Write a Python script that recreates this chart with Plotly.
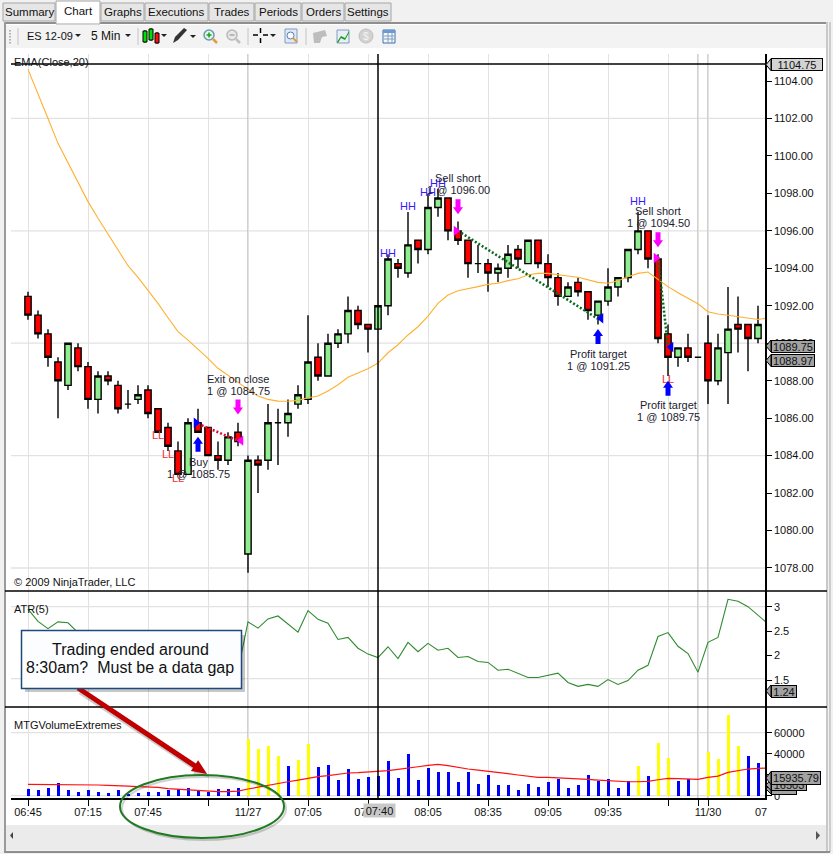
import plotly.graph_objects as go

W, H = 833, 854

# ---------- data ----------
bars = list(range(74))
opens = [1092.5,1091.5,1090.5,1089,1087.75,1089.75,1088.75,1087,1088.25,1087.75,1086.75,1087,1087.5,1086.5,1085.5,1084.25,1083,1085.75,1085.5,1084,1083.75,1085.25,1078.75,1083.75,1083.75,1085.75,1085.75,1086.75,1087,1089.25,1088.25,1090,1090.5,1091.75,1091,1090.75,1092,1094.25,1093.75,1095.5,1095,1097.25,1097.75,1096,1095.5,1094.25,1094.25,1093.75,1094,1095,1094.25,1095.5,1094.25,1093.5,1092.5,1093.25,1092.75,1091.5,1092.25,1093,1093.5,1095,1096,1094.5,1090.5,1089.25,1089.75,1089.25,1090,1088,1089.5,1091,1091,1090.25]
highs = [1092.75,1091.75,1090.75,1089.25,1090,1090,1089,1088.5,1088.5,1088,1087.5,1087.75,1087.75,1086.5,1085.75,1084.75,1086,1086.5,1085.5,1084.75,1085.25,1085.75,1084,1084,1086.75,1086.5,1087,1087.75,1091.5,1090,1090.5,1090.75,1092.5,1092,1091,1092,1094.75,1094.5,1097,1095.5,1098,1098.25,1097.75,1096.5,1095.5,1095.25,1094.5,1094.25,1095.25,1095.25,1095.5,1095.5,1094.75,1093.75,1093.25,1093.5,1092.75,1092.25,1094,1093.5,1095,1097,1096,1094.75,1091,1089.75,1090.5,1089.25,1091.5,1090.5,1093,1092.5,1091,1092]
lows = [1091.25,1090.25,1088.75,1086,1087.5,1088.5,1086.5,1086.25,1087.75,1086.25,1086.5,1086.75,1086,1085.25,1084.25,1083,1083,1085.25,1084,1083.25,1083.5,1084.5,1077.75,1082,1083.25,1083.5,1085,1086.5,1086.75,1088,1088.25,1089.75,1090,1090.75,1089.5,1090.75,1091.5,1093.5,1093.5,1094.25,1094.75,1096.75,1095.5,1095.25,1093.5,1093.75,1092.75,1093.25,1093.5,1094,1094.25,1094,1093,1092,1092.5,1092.5,1091.25,1091,1092,1092.5,1093.25,1094.75,1094,1090,1088.25,1088.75,1089,1089.25,1086.75,1087.75,1086.75,1089.5,1088.5,1090]
closes = [1091.5,1090.5,1089.25,1088,1090,1088.75,1087,1088.25,1088,1086.5,1086.75,1087.25,1086.25,1085.25,1084.5,1083,1085.75,1085.25,1084,1083.75,1085,1084.75,1083.75,1083.5,1085.75,1085.75,1086.25,1087.25,1089,1088.25,1090,1090.5,1091.75,1091,1090.75,1092,1094.5,1094,1095.25,1095,1097.25,1097.75,1096,1095.5,1094.25,1094.25,1093.75,1094,1094.75,1094.5,1095.5,1094.25,1093.5,1092.5,1093,1092.75,1091.75,1092.25,1093,1093.5,1095,1096,1094.5,1090.25,1089.25,1089.75,1089.25,1089.25,1088,1089.75,1090.75,1090.75,1090.25,1091]

ema_bars = list(range(75))
ema = [1104.62,1103.34,1102.0,1100.67,1099.64,1098.57,1097.56,1096.67,1095.81,1094.98,1094.14,1093.52,1092.84,1092.13,1091.36,1090.62,1090.17,1089.69,1089.19,1088.66,1088.26,1087.91,1087.54,1087.18,1087.0,1086.91,1086.9,1086.95,1087.09,1087.18,1087.45,1087.78,1088.18,1088.43,1088.64,1088.94,1089.49,1089.92,1090.44,1090.88,1091.45,1092.13,1092.57,1092.8,1092.93,1093.02,1093.14,1093.2,1093.34,1093.44,1093.66,1093.73,1093.73,1093.64,1093.59,1093.52,1093.37,1093.25,1093.2,1093.34,1093.55,1093.73,1093.8,1093.41,1093.02,1092.7,1092.4,1092.11,1091.68,1091.56,1091.49,1091.42,1091.35,1091.27,1091.35]

atr = [2.95,2.70,2.55,2.69,2.67,2.47,2.38,2.30,2.22,2.15,2.10,2.02,1.97,1.92,1.87,1.85,1.83,1.80,1.78,1.80,1.85,1.70,2.69,2.56,2.75,2.81,2.65,2.48,2.92,2.74,2.66,2.33,2.37,2.15,2.03,1.96,2.18,1.94,2.27,2.08,2.25,2.11,2.15,1.96,1.98,1.88,1.86,1.70,1.72,1.64,1.55,1.55,1.59,1.64,1.45,1.37,1.41,1.37,1.51,1.41,1.49,1.70,1.80,2.39,2.47,2.19,2.04,1.66,2.27,2.37,3.15,3.11,3.00,2.83,2.65]

volume = [6350,5400,7300,12000,5400,3500,5400,3500,2500,5400,1600,2500,3500,3500,5400,6350,7300,5400,3500,6350,6350,7300,54000,44500,47300,37800,28300,34000,49200,27300,29200,14900,25400,15900,17800,18700,33000,16800,39700,14900,26400,22500,22500,13000,22500,11100,19700,10200,10200,5400,11100,8250,13000,15900,7300,10200,19700,14000,15900,7300,14000,28300,18700,50200,35900,14000,15900,0,41600,34900,76800,47300,37800,31100]
vol_extreme = [22,23,24,25,27,28,61,63,64,68,69,70,71]
vol_avg = [10800,10800,10800,10800,10800,10800,10800,10200,9800,9800,9200,8600,8250,7900,6700,6000,5400,4800,3800,3800,3800,4400,6350,8250,10200,12100,13300,14900,16800,18100,19050,20600,21600,21900,22500,22900,23800,25100,26700,27600,28900,29800,28600,26700,25400,24400,23500,21900,21000,19700,18700,17500,17500,17100,16800,16500,15600,14900,14300,13300,13300,13300,13650,15200,16500,16200,15600,15600,17500,18700,22200,24100,25400,26000,26400]

tick_bars = [0,6,12,18,22,28,34,40,46,52,58,64,67,68]
tick_text = ["06:45","07:15","07:45","","11/27","07:05","07:35","08:05","08:35","09:05","09:35","","","11/30"]
session_bars = [22,67,68]
crosshair_bar = 35
crosshair_price = 1104.9

price_ticks = [1078,1080,1082,1084,1086,1088,1090,1092,1094,1096,1098,1100,1102,1104]
price_grid = [1078,1084,1090,1096,1102]
atr_ticks = [1.5,2,2.5,3]
atr_grid = [1.53,3]
vol_ticks = [0,20000,40000,60000]
vol_text = ["0","","40000","60000"]
vol_grid = [0,60000]

hh_bars = [36,38,40,41,61]
hh_prices = [1094.76,1097.27,1098,1098.5,1097.52]
ll_bars = [13,14,15,64]
ll_prices = [1085.05,1084.03,1082.75,1088.04]

trade_lines = [
    ([17,21],[1085.7,1084.8],"#e0103c"),
    ([43,57],[1096,1091.3],"#0b6b1d"),
    ([63,64],[1094.5,1089.85],"#0b6b1d"),
]
entry_right_bars = [16.8,42.8,62.8]
entry_right_prices = [1085.75,1096,1094.55]
entry_right_colors = ["#0000ff","#ff00ff","#ff00ff"]
exit_left_bars = [21.3,57.3,64.3]
exit_left_prices = [1084.8,1091.33,1089.8]
exit_left_colors = ["#ff00ff","#0000ff","#0000ff"]

up_arrow_bars = [17,57,64]
up_arrow_tips = [1085,1090.76,1088]
down_arrow_bars = [21,43,63]
down_arrow_tips = [1086.2,1096.88,1095.12]

trade_labels = [
    (17,1083.34,"Buy","1 @ 1085.75"),
    (21,1087.77,"Exit on close","1 @ 1084.75"),
    (43,1098.5,"Sell short","1 @ 1096.00"),
    (63,1096.74,"Sell short","1 @ 1094.50"),
    (57,1089.1,"Profit target","1 @ 1091.25"),
    (64,1086.38,"Profit target","1 @ 1089.75"),
]
tabs = [("Summary",3,55),("Chart",56,100),("Graphs",101,144),("Executions",145,208),("Trades",209,254),("Periods",255,301),("Orders",302,344),("Settings",345,391)]

# ---------- pixel helpers for the window chrome ----------
FONT = "Liberation Sans"
def X(p): return p / W
def Y(p): return 1 - p / H
shapes, notes = [], []
def rect(x0,y0,x1,y1,fill=None,line=None,lw=1,layer="below",op=None):
    s = dict(type="rect",xref="paper",yref="paper",x0=X(x0),x1=X(x1),y0=Y(y0),y1=Y(y1),layer=layer,
             line=dict(color=line or "rgba(0,0,0,0)",width=lw if line else 0))
    if fill: s["fillcolor"]=fill
    if op is not None: s["opacity"]=op
    shapes.append(s)
def seg(x0,y0,x1,y1,color="#000",lw=1,layer="below",dash=None):
    shapes.append(dict(type="line",xref="paper",yref="paper",x0=X(x0),x1=X(x1),y0=Y(y0),y1=Y(y1),layer=layer,
                       line=dict(color=color,width=lw,dash=dash or "solid")))
def poly(pts,fill,line=None,lw=1,layer="above",op=None):
    d = "M"+" L".join(f"{X(a):.5f},{Y(b):.5f}" for a,b in pts)+" Z"
    s = dict(type="path",xref="paper",yref="paper",path=d,fillcolor=fill,layer=layer,
             line=dict(color=line or "rgba(0,0,0,0)",width=lw if line else 0))
    if op is not None: s["opacity"]=op
    shapes.append(s)
def circ(x0,y0,x1,y1,fill=None,line="#000",lw=1,layer="above",op=None):
    s = dict(type="circle",xref="paper",yref="paper",x0=X(x0),x1=X(x1),y0=Y(y0),y1=Y(y1),layer=layer,line=dict(color=line,width=lw))
    if fill: s["fillcolor"]=fill
    if op is not None: s["opacity"]=op
    shapes.append(s)
def txt(x,y,t,size=11,color="#111",anchor="left",**kw):
    notes.append(dict(xref="paper",yref="paper",x=X(x),y=Y(y),text=t,showarrow=False,xanchor=anchor,yanchor="middle",
                      font=dict(family=FONT,size=size,color=color),borderpad=0,**kw))

# window background
rect(5,23,827,825,fill="#ffffff")
rect(4,22,828,24,fill="#8f8f8f")
rect(4,22,6,852,fill="#9a9a9a")
rect(826,22,828,852,fill="#c8c8c8")
seg(830,22,830,852,"#a8a8a8",1)
seg(4,852,830,852,"#8f8f8f",2)
rect(6,825,826,850,fill="#ebebeb")
poly([(13,832),(13,839),(10,835.5)],"#444",layer="below")
poly([(816,831),(816,840),(820,835.5)],"#555",layer="below")
# toolbar
rect(6,25,826,48,fill="#f3f3f3")
for gy in (30,33,36,39,42):
    rect(9,gy,11,gy+1.5,fill="#b0b0b0")
for sx in (18,138,248,306):
    seg(sx,28,sx,45,"#c4c4c4",1)
# tabs
for name,a,b in tabs:
    on = name=="Chart"
    rect(a,1 if on else 3,b,24 if on else 21,fill="#ffffff" if on else "#e6e6e6",line="#a5a5a5",lw=1)
    txt((a+b)/2,11 if on else 12,name,size=11.5,anchor="center",color="#111")
txt(26,36,"ES 12-09",size=11)
poly([(75,34),(81,34),(78,37)],"#222")
txt(90,36,"5 Min",size=12)
poly([(125,34),(131,34),(128,37)],"#222")
# candle icon
for cx,c,t,b in ((145,"#00e000",31,42),(151,"#00e000",29,40),(157,"#ff1010",33,43)):
    seg(cx,t-1,cx,b+1,"#000",1,layer="above")
    rect(cx-2,t,cx+2,b,fill=c,line="#000",lw=1,layer="above")
poly([(161,34),(167,34),(164,37)],"#222")
# pencil icon
poly([(173,43),(175,37),(184,28),(187,30),(178,40)],"#333")
poly([(190,35),(196,35),(193,38)],"#222")
# magnifiers
circ(204,30,214,40,fill="#e6f4e6",line="#6d97b8",lw=1.5)
seg(206.5,35,211.5,35,"#1aa01a",1.5,layer="above"); seg(209,32.5,209,37.5,"#1aa01a",1.5,layer="above")
seg(213,39,217,43,"#e89a3c",2.5,layer="above")
circ(227,30,237,40,fill="#e8e8e8",line="#b8b8b8",lw=1.5)
seg(229.5,35,234.5,35,"#a8a8a8",1.5,layer="above")
seg(236,39,240,43,"#c0c0c0",2.5,layer="above")
# crosshair icon
seg(253,35,258,35,"#000",1.5,layer="above"); seg(263,35,268,35,"#000",1.5,layer="above")
seg(260.5,28,260.5,33,"#000",1.5,layer="above"); seg(260.5,38,260.5,43,"#000",1.5,layer="above")
poly([(270,34),(276,34),(273,37)],"#222")
# page zoom icon
rect(285,29,297,43,fill="#dfe9f6",line="#7f9dc0",lw=1,layer="above")
circ(287,32,294,39,fill="#f7fbff",line="#5a7ea6",lw=1)
seg(293,38,297,42,"#e89a3c",2,layer="above")
# greyed icons
poly([(313,33),(325,30),(327,36),(322,37),(320,43),(314,43)],"#bdbdbd")
rect(337,30,349,43,fill="#e8eef6",line="#7f9dc0",lw=1,layer="above")
poly([(337,42),(341,36),(345,38),(349,31),(349,33),(345,40),(341,38),(338,43)],"#1a9a1a")
circ(359,29,373,43,fill="#d2d2d2",line="#c0c0c0",lw=1)
txt(366,36,"$",size=10,anchor="center",color="#f2f2f2")
rect(383,30,395,43,fill="#f4f8fc",line="#3f6ea8",lw=1,layer="above")
rect(383,30,395,33,fill="#6a9ad0",layer="above")
for gy in (36,39):
    seg(384,gy,394,gy,"#7f9dc0",1,layer="above")
seg(388,33,388,43,"#7f9dc0",1,layer="above"); seg(392,33,392,43,"#7f9dc0",1,layer="above")

# panel frame lines and crosshair
PX0, PX1 = 11, 765
TOP, P1, P2, BOT = 54, 591, 707, 798
seg(5,P1,827,P1,"#000",1.5,layer="above")
seg(5,P2,827,P2,"#000",1.5,layer="above")
seg(PX0,64,PX1,64,"#000",1.5,layer="above")

# ---------- figure ----------
fig = go.Figure()
x_axis_range = [(PX0-28)/10,(PX1-28)/10]

fig.add_trace(go.Scatter(x=ema_bars,y=ema,mode="lines",line=dict(color="#ffb030",width=1.1),yaxis="y",xaxis="x",hoverinfo="skip"))
fig.add_trace(go.Candlestick(x=bars,open=opens,high=highs,low=lows,close=closes,yaxis="y",xaxis="x",
    whiskerwidth=0,
    increasing=dict(fillcolor="#90ee90",line=dict(color="#000000",width=1.4)),
    decreasing=dict(fillcolor="#ff0000",line=dict(color="#000000",width=1.4)),hoverinfo="skip"))
for xs,ys,c in trade_lines:
    fig.add_trace(go.Scatter(x=xs,y=ys,mode="lines",line=dict(color=c,width=2.6,dash="2px 2px"),yaxis="y",xaxis="x",hoverinfo="skip"))
fig.add_trace(go.Scatter(x=entry_right_bars,y=entry_right_prices,mode="markers",marker=dict(symbol="triangle-right",size=9,color=entry_right_colors),yaxis="y",xaxis="x",hoverinfo="skip"))
fig.add_trace(go.Scatter(x=exit_left_bars,y=exit_left_prices,mode="markers",marker=dict(symbol="triangle-left",size=9,color=exit_left_colors),yaxis="y",xaxis="x",hoverinfo="skip"))
fig.add_trace(go.Scatter(x=hh_bars,y=hh_prices,mode="text",text=["HH"]*len(hh_bars),textfont=dict(family=FONT,size=11,color="#3a18ff"),yaxis="y",xaxis="x",hoverinfo="skip"))
fig.add_trace(go.Scatter(x=ll_bars,y=ll_prices,mode="text",text=["LL"]*len(ll_bars),textfont=dict(family=FONT,size=11,color="#f0302a"),yaxis="y",xaxis="x",hoverinfo="skip"))

fig.add_trace(go.Scatter(x=ema_bars,y=atr,mode="lines",line=dict(color="#2e8b2e",width=1.1),yaxis="y2",xaxis="x",hoverinfo="skip"))

vol_colors = ["#ffff00" if i in vol_extreme else "#0000ff" for i in bars]
fig.add_trace(go.Bar(x=bars,y=volume,marker=dict(color=vol_colors,line=dict(width=0)),width=0.3,yaxis="y3",xaxis="x",hoverinfo="skip"))
fig.add_trace(go.Scatter(x=ema_bars,y=vol_avg,mode="lines",line=dict(color="#ff1010",width=1.2),yaxis="y3",xaxis="x",hoverinfo="skip"))

# grid drawn from the per-panel level lists
for v in price_grid:
    shapes.append(dict(type="line",xref="paper",yref="y",x0=X(PX0),x1=X(PX1),y0=v,y1=v,layer="below",line=dict(color="#e2e2e2",width=1.3)))
for v in atr_grid:
    shapes.append(dict(type="line",xref="paper",yref="y2",x0=X(PX0),x1=X(PX1),y0=v,y1=v,layer="below",line=dict(color="#e2e2e2",width=1.3)))
for v in vol_grid:
    shapes.append(dict(type="line",xref="paper",yref="y3",x0=X(PX0),x1=X(PX1),y0=v,y1=v,layer="below",line=dict(color="#e2e2e2",width=1.3)))
for b in session_bars:
    shapes.append(dict(type="line",xref="x",yref="paper",x0=b,x1=b,y0=Y(BOT),y1=Y(TOP),layer="below",line=dict(color="#b8b8b8",width=1.3)))
shapes.append(dict(type="line",xref="x",yref="paper",x0=crosshair_bar,x1=crosshair_bar,y0=Y(BOT),y1=Y(TOP),layer="above",line=dict(color="#000",width=1.5)))

# trade arrows, fixed pixel size, tip on the data point (path y runs upward from the anchor)
def arrow(bar,price,color,up):
    s = 1 if up else -1
    pts = [(0,0),(-5,-7*s),(-2.5,-7*s),(-2.5,-15*s),(2.5,-15*s),(2.5,-7*s),(5,-7*s)]
    d = "M"+" L".join(f"{a},{b}" for a,b in pts)+" Z"
    shapes.append(dict(type="path",xref="x",yref="y",xsizemode="pixel",ysizemode="pixel",xanchor=bar,yanchor=price,
                       path=d,fillcolor=color,line=dict(width=0),layer="above"))
for b,p in zip(up_arrow_bars,up_arrow_tips): arrow(b,p,"#0000ff",True)
for b,p in zip(down_arrow_bars,down_arrow_tips): arrow(b,p,"#ff00ff",False)

for b,p,l1,l2 in trade_labels:
    for t,dy in ((l1,6),(l2,-6)):
        notes.append(dict(xref="x",yref="y",x=b,y=p,yshift=dy,text=t,showarrow=False,xanchor="center",yanchor="middle",
                          font=dict(family=FONT,size=11,color="#1c1c30")))

# indicator captions
txt(13,62,"EMA(Close,20)")
txt(13,582,"© 2009 NinjaTrader, LLC")
txt(13,609,"ATR(5)")
txt(13,725,"MTGVolumeExtremes")

# x labels overlaid on the axis
notes.append(dict(xref="paper",yref="paper",x=X(363),y=Y(810.5),text="07:40",showarrow=False,xanchor="left",yanchor="middle",
                  font=dict(family=FONT,size=11,color="#111"),bgcolor="#c8c8c8",width=31,height=13,borderpad=0))
txt(754,811.5,"07")

# value flags
def flag(t,y,x1,fill,h=12):
    poly([(771,y-h/2),(766,y),(771,y+h/2)],fill,line="#000",lw=1,layer="above")
    notes.append(dict(xref="paper",yref="paper",x=X(771),y=Y(y),text=t,showarrow=False,xanchor="left",yanchor="middle",align="center",
                      font=dict(family=FONT,size=11,color="#111"),bgcolor=fill,bordercolor="#000",borderwidth=1,borderpad=0,
                      width=x1-772,height=h-1))
flag("1104.75",64.7,822,"#d3d3d3")
flag("1089.75",346,814,"#a2a2a2")
flag("1088.97",360.5,814,"#a2a2a2")
flag("1.24",691,796,"#a2a2a2")
flag("",789,796,"#a2a2a2",h=10)
flag("16503",785,806,"#a2a2a2",h=11)
flag("15935.79",778,820,"#a2a2a2",h=13)

# callout, arrow, ellipse
rect(25,635,245,692,fill="#000000",layer="above",op=0.22)
def thick_arrow(x0,y0,x1,y1,color,op=None,sw=2.5,hl=15,hw=6.5):
    L = ((x1-x0)**2+(y1-y0)**2)**.5
    ux,uy = (x1-x0)/L,(y1-y0)/L
    nx,ny = -uy,ux
    bx,by = x1-ux*hl,y1-uy*hl
    poly([(x0+nx*sw,y0+ny*sw),(bx+nx*sw,by+ny*sw),(bx+nx*hw,by+ny*hw),(x1,y1),(bx-nx*hw,by-ny*hw),(bx-nx*sw,by-ny*sw),(x0-nx*sw,y0-ny*sw)],color,op=op)
thick_arrow(80,692,209,777,"#000000",op=0.2)
thick_arrow(78,688,207,774,"#c00000")
rect(21.5,630.5,241.5,688.5,fill="#fbfdff",line="#1f497d",lw=1.5,layer="above")
txt(130,649.5,"Trading ended around",size=16,anchor="center",color="#111")
txt(130,667.5,"8:30am?\u00a0 Must be a data gap",size=16,anchor="center",color="#111")
circ(122,777,286,840,line="#000000",lw=2,op=0.18)
circ(120,775,284,838,line="#1f7a22",lw=2)

fig.update_layout(
    width=W,height=H,margin=dict(l=0,r=0,t=0,b=0,pad=0),autosize=False,
    paper_bgcolor="#f1f1f1",plot_bgcolor="rgba(0,0,0,0)",showlegend=False,
    shapes=shapes,annotations=notes,bargap=0,boxgap=0.1,
    font=dict(family=FONT,size=11,color="#111"),
    xaxis=dict(domain=[X(PX0),X(PX1)],range=x_axis_range,anchor="y3",tickmode="array",tickvals=tick_bars,ticktext=tick_text,automargin=False,
               ticks="outside",ticklen=6,tickcolor="#000",tickwidth=1.3,showline=True,linecolor="#000",linewidth=1.5,ticklabelstandoff=-3,
               showgrid=True,gridcolor="#e2e2e2",gridwidth=1.3,zeroline=False,rangeslider=dict(visible=False),tickangle=0,
               tickfont=dict(family=FONT,size=11,color="#111")),
    yaxis=dict(domain=[Y(P1),Y(TOP)],range=[1104-(P1-81)/18.73,1104+(81-TOP)/18.73],side="right",anchor="x",tickmode="array",tickvals=price_ticks,automargin=False,
               tickformat=".2f",ticks="outside",ticklen=5,tickcolor="#000",tickwidth=1.3,showline=True,linecolor="#000",linewidth=1.5,
               showgrid=False,zeroline=False,tickfont=dict(family=FONT,size=11,color="#111")),
    yaxis2=dict(domain=[Y(P2),Y(P1)],range=[3-(P2-590-50/3)/48.9,3+(50/3+590-P1)/48.9],side="right",anchor="x",tickmode="array",tickvals=atr_ticks,automargin=False,
                ticktext=["1.5","2","2.5","3"],ticks="outside",ticklen=5,tickcolor="#000",tickwidth=1.3,showline=True,linecolor="#000",linewidth=1.5,
                showgrid=False,zeroline=False,tickfont=dict(family=FONT,size=11,color="#111")),
    yaxis3=dict(domain=[Y(BOT),Y(P2)],range=[-(BOT-795.7)*952.4,(795.7-P2)*952.4],side="right",anchor="x",tickmode="array",tickvals=vol_ticks,automargin=False,
                ticktext=vol_text,ticks="outside",ticklen=5,tickcolor="#000",tickwidth=1.3,showline=True,linecolor="#000",linewidth=1.5,
                showgrid=False,zeroline=False,tickfont=dict(family=FONT,size=11,color="#111")),
)
fig.write_html("out.html",config=dict(displayModeBar=False),post_script="document.body.style.margin='0';document.documentElement.style.overflow='hidden';")
